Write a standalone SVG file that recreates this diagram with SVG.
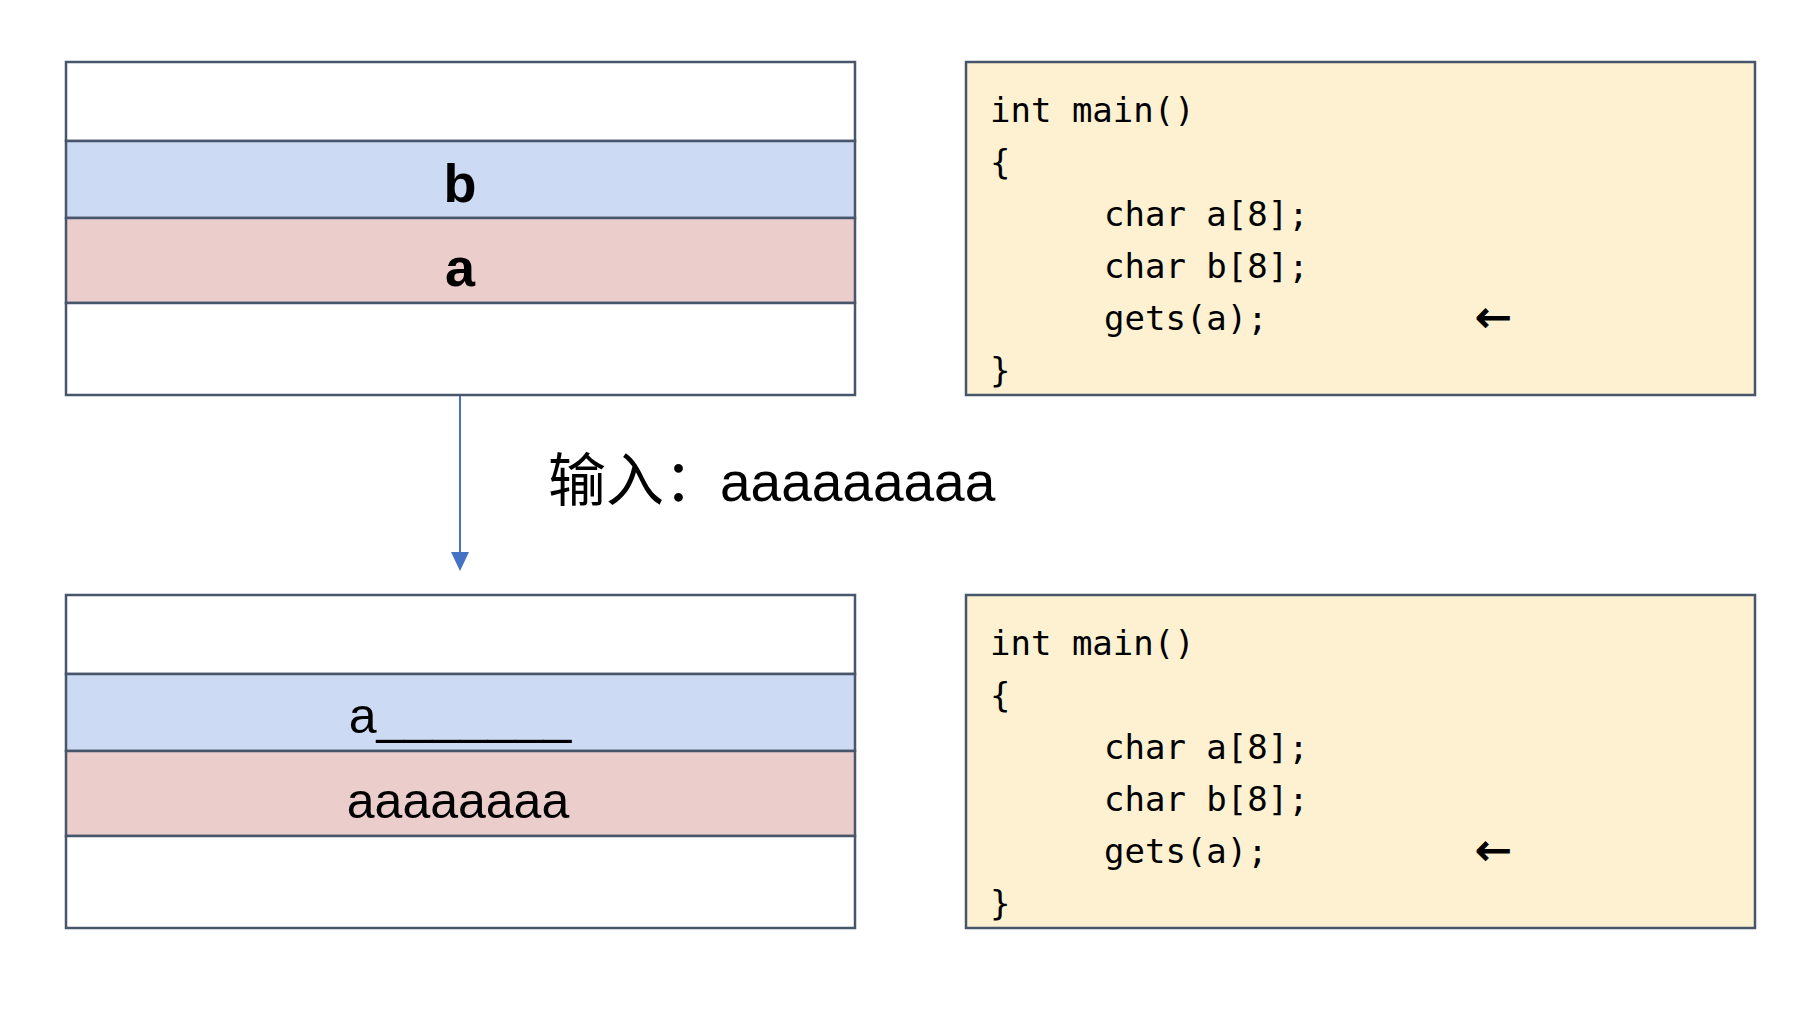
<svg xmlns="http://www.w3.org/2000/svg" width="1814" height="1026" viewBox="0 0 1814 1026">
<style>
.cell{stroke:#48566b;stroke-width:2.5}
.w{fill:#ffffff}
.b{fill:#ccdaf3}
.p{fill:#ebcdcb}
.code{fill:#fdf1d1;stroke:#48566b;stroke-width:2.5}
.mono{font-family:"DejaVu Sans Mono","Liberation Mono",monospace;font-size:34px;fill:#000}
.lbl{font-family:"Liberation Sans",Arial,sans-serif;fill:#000;text-anchor:middle}
.arr{font-family:"DejaVu Sans",sans-serif;font-size:44px;fill:#000;stroke:#000;stroke-width:1}
</style>
<rect width="1814" height="1026" fill="#ffffff"/>

<g id="stack-before">
<rect class="cell w" x="66" y="62" width="789" height="79"/>
<rect class="cell b" x="66" y="141" width="789" height="77"/>
<rect class="cell p" x="66" y="218" width="789" height="85"/>
<rect class="cell w" x="66" y="303" width="789" height="92"/>
<text class="lbl" x="460" y="202" font-size="54" font-weight="bold">b</text>
<text class="lbl" x="460" y="286" font-size="54" font-weight="bold">a</text>
</g>

<g id="code-before">
<rect class="code" x="966" y="62" width="789" height="333"/>
<text class="mono" x="990" y="122">int main()</text>
<text class="mono" x="990" y="174">{</text>
<text class="mono" x="1104" y="226">char a[8];</text>
<text class="mono" x="1104" y="278">char b[8];</text>
<text class="mono" x="1104" y="330">gets(a);</text>
<text class="mono" x="990" y="382">}</text>
<text class="arr" x="1475" y="332">←</text>
</g>

<g id="input-label">
<text y="501" fill="#000"><tspan x="548" font-family="'Noto Sans CJK SC',sans-serif" font-size="58">输入：</tspan><tspan x="720" font-family="'Liberation Sans',Arial,sans-serif" font-size="55">aaaaaaaaa</tspan></text>
</g>

<g id="connectors">
<line x1="460" y1="396" x2="460" y2="553" stroke="#4472c4" stroke-width="2"/>
<polygon points="451,552 469,552 460,571" fill="#4472c4"/>
</g>

<g id="stack-after">
<rect class="cell w" x="66" y="595" width="789" height="79"/>
<rect class="cell b" x="66" y="674" width="789" height="77"/>
<rect class="cell p" x="66" y="751" width="789" height="85"/>
<rect class="cell w" x="66" y="836" width="789" height="92"/>
<text class="lbl" x="460" y="733" font-size="50">a_______</text>
<text class="lbl" x="458" y="818" font-size="50">aaaaaaaa</text>
</g>

<g id="code-after">
<rect class="code" x="966" y="595" width="789" height="333"/>
<text class="mono" x="990" y="655">int main()</text>
<text class="mono" x="990" y="707">{</text>
<text class="mono" x="1104" y="759">char a[8];</text>
<text class="mono" x="1104" y="811">char b[8];</text>
<text class="mono" x="1104" y="863">gets(a);</text>
<text class="mono" x="990" y="915">}</text>
<text class="arr" x="1475" y="865">←</text>
</g>
</svg>
